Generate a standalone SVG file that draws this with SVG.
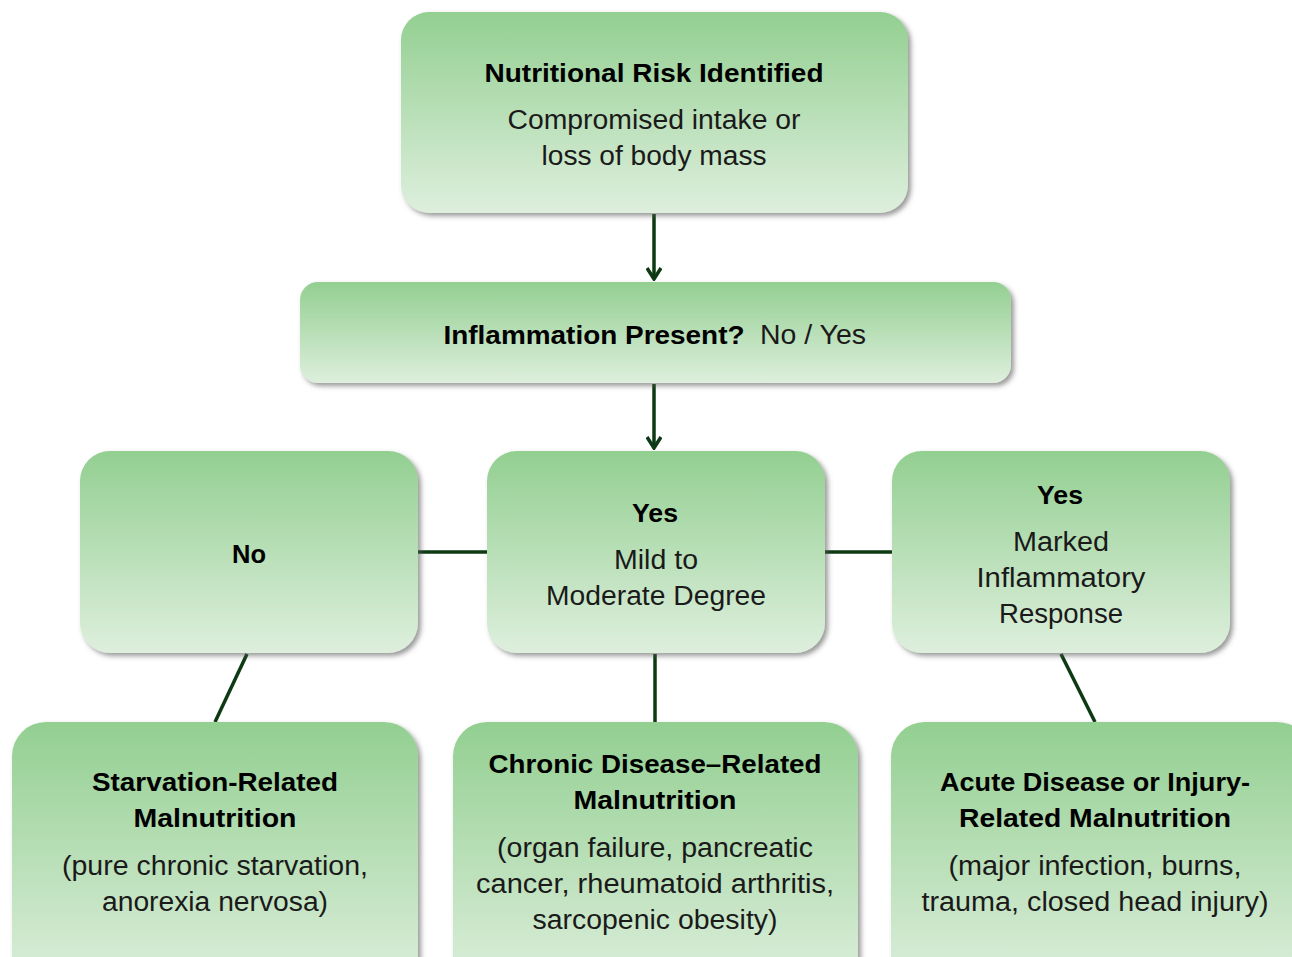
<svg xmlns="http://www.w3.org/2000/svg" width="1292" height="957" viewBox="0 0 1292 957">
<style>
.box{fill:url(#g);filter:url(#sh)}
.t{font-family:"Liberation Sans",Arial,sans-serif;font-weight:bold;font-size:26px;fill:#000;text-anchor:middle}
.b{font-family:"Liberation Sans",Arial,sans-serif;font-size:27px;fill:#1a1a1a;text-anchor:middle}
.c{stroke:#0d3a12;stroke-width:3.5;fill:none}
</style>
<defs>
<linearGradient id="g" x1="0" y1="0" x2="0" y2="1">
<stop offset="0" stop-color="#93cf91"/>
<stop offset="1" stop-color="#deefdd"/>
</linearGradient>
<filter id="sh" x="-10%" y="-10%" width="125%" height="130%">
<feDropShadow dx="3" dy="3" stdDeviation="2.5" flood-color="#555" flood-opacity="0.6"/>
</filter>
<marker id="ar" markerWidth="16" markerHeight="16" refX="14" refY="8" orient="auto" markerUnits="userSpaceOnUse" viewBox="0 0 16 16">
<polyline points="3,1 14,8 3,15" fill="none" stroke="#0d3a12" stroke-width="3.5"/>
</marker>
</defs>
<rect width="1292" height="957" fill="#fff"/>
<g id="connectors">
<line class="c" x1="654" y1="214" x2="654" y2="279" marker-end="url(#ar)"/>
<line class="c" x1="654" y1="384" x2="654" y2="448" marker-end="url(#ar)"/>
<line class="c" x1="416" y1="552" x2="489" y2="552"/>
<line class="c" x1="823" y1="552" x2="894" y2="552"/>
<line class="c" x1="247" y1="654" x2="215" y2="722"/>
<line class="c" x1="655" y1="654" x2="655" y2="722"/>
<line class="c" x1="1061" y1="654" x2="1095" y2="722"/>
</g>
<g id="n1">
<rect class="box" x="401" y="12" width="507" height="201" rx="28"/>
<text class="t" x="654" y="82" textLength="339" lengthAdjust="spacingAndGlyphs">Nutritional Risk Identified</text>
<text class="b" x="654" y="129" textLength="293" lengthAdjust="spacingAndGlyphs">Compromised intake or</text>
<text class="b" x="654" y="165" textLength="225" lengthAdjust="spacingAndGlyphs">loss of body mass</text>
</g>
<g id="n2">
<rect class="box" x="300" y="282" width="711" height="101" rx="18"/>
<text class="t" x="594" y="344" textLength="301" lengthAdjust="spacingAndGlyphs">Inflammation Present?</text>
<text class="b" x="813" y="344" textLength="106" lengthAdjust="spacingAndGlyphs">No / Yes</text>
</g>
<g id="n3">
<rect class="box" x="80" y="451" width="338" height="202" rx="30"/>
<text class="t" x="249" y="563" textLength="34" lengthAdjust="spacingAndGlyphs">No</text>
</g>
<g id="n4">
<rect class="box" x="487" y="451" width="338" height="202" rx="30"/>
<text class="t" x="655" y="522" textLength="46" lengthAdjust="spacingAndGlyphs">Yes</text>
<text class="b" x="656" y="569" textLength="84" lengthAdjust="spacingAndGlyphs">Mild to</text>
<text class="b" x="656" y="605" textLength="220" lengthAdjust="spacingAndGlyphs">Moderate Degree</text>
</g>
<g id="n5">
<rect class="box" x="892" y="451" width="338" height="202" rx="30"/>
<text class="t" x="1060" y="504" textLength="46" lengthAdjust="spacingAndGlyphs">Yes</text>
<text class="b" x="1061" y="551" textLength="96" lengthAdjust="spacingAndGlyphs">Marked</text>
<text class="b" x="1061" y="587" textLength="169" lengthAdjust="spacingAndGlyphs">Inflammatory</text>
<text class="b" x="1061" y="623" textLength="124" lengthAdjust="spacingAndGlyphs">Response</text>
</g>
<g id="n6">
<rect class="box" x="12" y="722" width="406" height="270" rx="34"/>
<text class="t" x="215" y="791" textLength="246" lengthAdjust="spacingAndGlyphs">Starvation-Related</text>
<text class="t" x="215" y="827" textLength="163" lengthAdjust="spacingAndGlyphs">Malnutrition</text>
<text class="b" x="215" y="875" textLength="306" lengthAdjust="spacingAndGlyphs">(pure chronic starvation,</text>
<text class="b" x="215" y="911" textLength="226" lengthAdjust="spacingAndGlyphs">anorexia nervosa)</text>
</g>
<g id="n7">
<rect class="box" x="453" y="722" width="405" height="270" rx="34"/>
<text class="t" x="655" y="773" textLength="333" lengthAdjust="spacingAndGlyphs">Chronic Disease–Related</text>
<text class="t" x="655" y="809" textLength="163" lengthAdjust="spacingAndGlyphs">Malnutrition</text>
<text class="b" x="655" y="857" textLength="316" lengthAdjust="spacingAndGlyphs">(organ failure, pancreatic</text>
<text class="b" x="655" y="893" textLength="358" lengthAdjust="spacingAndGlyphs">cancer, rheumatoid arthritis,</text>
<text class="b" x="655" y="929" textLength="245" lengthAdjust="spacingAndGlyphs">sarcopenic obesity)</text>
</g>
<g id="n8">
<rect class="box" x="891" y="722" width="420" height="270" rx="34"/>
<text class="t" x="1095" y="791" textLength="310" lengthAdjust="spacingAndGlyphs">Acute Disease or Injury-</text>
<text class="t" x="1095" y="827" textLength="272" lengthAdjust="spacingAndGlyphs">Related Malnutrition</text>
<text class="b" x="1095" y="875" textLength="293" lengthAdjust="spacingAndGlyphs">(major infection, burns,</text>
<text class="b" x="1095" y="911" textLength="347" lengthAdjust="spacingAndGlyphs">trauma, closed head injury)</text>
</g>
</svg>
